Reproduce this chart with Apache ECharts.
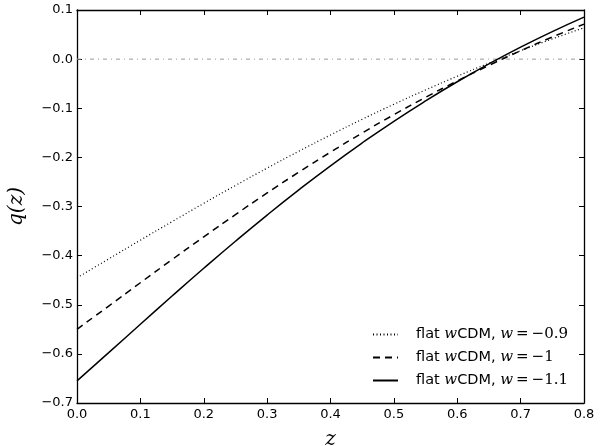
<!DOCTYPE html>
<html><head><meta charset="utf-8">
<script src="https://cdn.jsdelivr.net/npm/echarts@6/dist/echarts.min.js"></script>
<style>html,body{margin:0;padding:0;background:#fff}#c{width:601px;height:446px}</style>
</head><body><div id="c"></div>
<script>
const zValues = [0, 0.05, 0.1, 0.15, 0.2, 0.25, 0.3, 0.35, 0.4, 0.45, 0.5, 0.55, 0.6, 0.65, 0.7, 0.75, 0.8];
const qW09 = [-0.445, -0.4067, -0.3685, -0.3308, -0.2936, -0.2572, -0.2218, -0.1875, -0.1544, -0.1225, -0.0919, -0.0627, -0.0348, -0.0082, 0.0171, 0.0411, 0.0639];
const qW10 = [-0.55, -0.5026, -0.4552, -0.4081, -0.3618, -0.3165, -0.2725, -0.2301, -0.1894, -0.1503, -0.1131, -0.0778, -0.0444, -0.0128, 0.0170, 0.0450, 0.0713];
const qW11 = [-0.655, -0.5975, -0.5397, -0.4823, -0.4258, -0.3707, -0.3174, -0.2661, -0.2171, -0.1706, -0.1265, -0.0851, -0.0461, -0.0097, 0.0244, 0.0561, 0.0856];
const zeroLine = [[0, 0], [0.8, 0]];
const legendNames = ['w09', 'w10', 'w11'];
const legendValues = ['−0.9', '−1', '−1.1'];

const pair = (ys) => zValues.map((z, i) => [z, ys[i]]);
const fmt = v => (v < -1e-9 ? '−' : '') + Math.abs(v).toFixed(1);
const labelFont = {fontFamily: 'DejaVu Sans', fontSize: 13, color: '#000'};
const frame = {show: true, onZero: false, lineStyle: {color: '#000', width: 1.3}};
const ticks = {show: true, inside: true, length: 5, lineStyle: {color: '#000', width: 1}};

const chart = echarts.init(document.getElementById('c'), null, {renderer: 'canvas'});
chart.setOption({
  animation: false,
  backgroundColor: '#fff',
  grid: {left: 77, right: 17, top: 10, bottom: 43, containLabel: false, outerBoundsMode: 'none'},
  xAxis: [
    {type: 'value', min: 0, max: 0.8, interval: 0.1, position: 'bottom',
     axisLine: frame, axisTick: ticks, splitLine: {show: false},
     axisLabel: Object.assign({formatter: fmt, margin: 5}, labelFont),
     name: 'z', nameLocation: 'middle', nameGap: 27,
     nameTextStyle: {fontFamily: 'DejaVu Serif', fontStyle: 'italic', fontSize: 20, color: '#000'}},
    {type: 'value', min: 0, max: 0.8, interval: 0.1, position: 'top',
     axisLine: frame, axisTick: ticks, splitLine: {show: false}, axisLabel: {show: false}}
  ],
  yAxis: [
    {type: 'value', min: -0.7, max: 0.1, interval: 0.1, position: 'left',
     axisLine: frame, axisTick: ticks, splitLine: {show: false},
     axisLabel: Object.assign({formatter: fmt, margin: 4}, labelFont),
     name: 'q(z)', nameLocation: 'middle', nameGap: 50, nameRotate: 90,
     nameTextStyle: {fontFamily: 'DejaVu Serif', fontStyle: 'italic', fontSize: 20, color: '#000'}},
    {type: 'value', min: -0.7, max: 0.1, interval: 0.1, position: 'right',
     axisLine: frame, axisTick: ticks, splitLine: {show: false}, axisLabel: {show: false}}
  ],
  legend: {
    data: legendNames, orient: 'vertical', right: 28, bottom: 53,
    itemWidth: 25, itemHeight: 10, itemGap: 8,
    itemStyle: {opacity: 0},
    formatter: name => {
      const v = legendValues[legendNames.indexOf(name)];
      return '{p|flat }{i|w}{s|CDM, }{i|w}{m|\u2009=\u2009' + v + '}';
    },
    textStyle: {
      color: '#000',
      rich: {
        p: {fontFamily: 'DejaVu Sans', fontSize: 14.5, color: '#000', padding: [0, 0, 0, 13]},
        s: {fontFamily: 'DejaVu Sans', fontSize: 14.5, color: '#000'},
        i: {fontFamily: 'DejaVu Serif', fontStyle: 'italic', fontSize: 15, color: '#000'},
        m: {fontFamily: 'DejaVu Serif', fontSize: 15, color: '#000'}
      }
    }
  },
  series: [
    {name: 'zero', type: 'line', data: zeroLine, showSymbol: false, symbol: 'none',
     lineStyle: {color: '#999', width: 1, type: [4, 4, 1, 4]}, silent: true, z: 1},
    {name: 'w09', type: 'line', data: pair(qW09), smooth: true, symbol: 'none',
     lineStyle: {color: '#000', width: 1.2, type: [1, 2.5]}, itemStyle: {color: '#000'}},
    {name: 'w10', type: 'line', data: pair(qW10), smooth: true, symbol: 'none',
     lineStyle: {color: '#000', width: 1.5, type: [7, 5]}, itemStyle: {color: '#000'}},
    {name: 'w11', type: 'line', data: pair(qW11), smooth: true, symbol: 'none',
     lineStyle: {color: '#000', width: 1.5}, itemStyle: {color: '#000'}}
  ]
});
</script></body></html>
